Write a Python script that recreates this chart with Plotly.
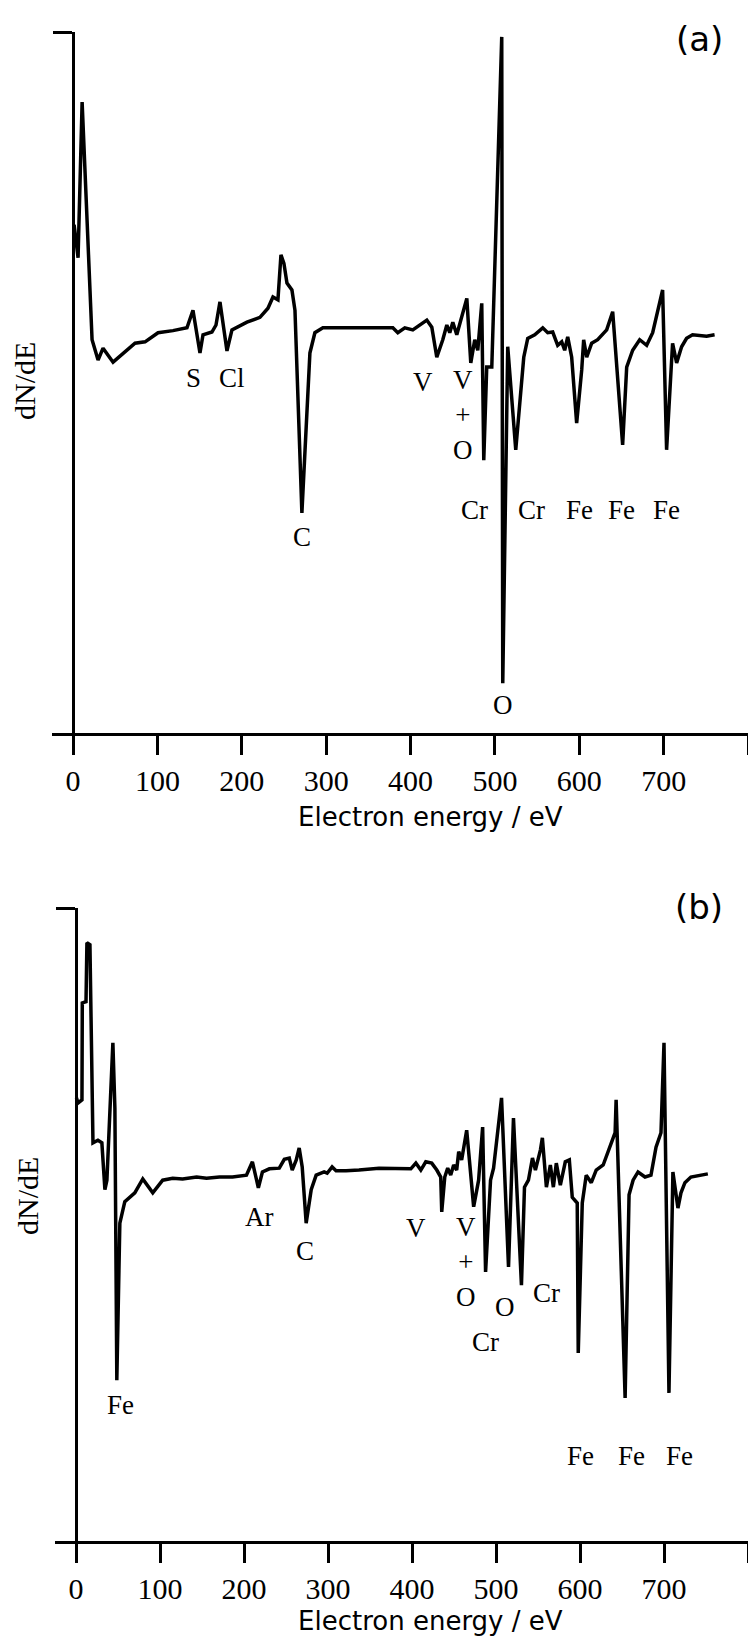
import plotly.graph_objects as go

# ---------------- data (electron energy in eV, dN/dE in arbitrary units) -------------
E_a = [1.2, 5.9, 10.7, 22.5, 29.6, 35.5, 47.4, 64.0, 73.4, 85.3, 100.7, 118.4, 135.0,
       142.1, 150.4, 154.0, 164.6, 169.4, 174.1, 182.4, 188.3, 206.1, 221.5, 231.0,
       236.9, 242.8, 246.4, 249.9, 253.5, 259.4, 263.0, 271.2, 280.7, 286.6, 296.1,
       308.0, 328.1, 348.2, 363.6, 379.0, 384.9, 393.2, 402.7, 411.0, 419.3, 425.2,
       431.1, 438.2, 443.0, 446.5, 450.1, 454.8, 460.7, 466.7, 471.4, 476.1, 479.7,
       484.4, 486.8, 490.3, 496.3, 508.1, 509.3, 515.2, 524.7, 534.2, 538.9, 547.2,
       556.7, 562.6, 568.5, 574.4, 579.2, 582.7, 586.3, 591.0, 596.9, 602.9, 605.2,
       608.8, 614.7, 621.8, 632.5, 639.6, 651.4, 656.2, 663.3, 671.6, 679.9, 687.0,
       698.8, 703.5, 710.6, 715.4, 721.3, 727.2, 734.3, 750.9, 760.4]
I_a = [72.5, 67.8, 90.0, 56.1, 53.2, 54.9, 52.9, 54.6, 55.6, 55.8, 57.1, 57.4, 57.8,
       60.3, 54.2, 56.8, 57.2, 58.2, 61.5, 54.5, 57.5, 58.6, 59.3, 60.6,
       62.2, 61.8, 68.2, 67.0, 64.2, 63.2, 60.3, 31.4, 54.2, 57.1, 57.8,
       57.8, 57.8, 57.9, 57.9, 57.8, 57.1, 57.8, 57.5, 58.2, 58.9, 57.9,
       53.6, 56.1, 58.2, 57.1, 58.6, 56.8, 59.6, 62.0, 52.8, 56.1, 54.6,
       61.3, 38.9, 52.2, 52.2, 99.3, 7.1, 55.1, 40.4, 53.6, 56.3, 56.8,
       57.8, 57.1, 57.2, 55.3, 55.8, 54.6, 56.5, 53.6, 44.2, 51.8, 56.1,
       53.6, 55.6, 56.1, 57.5, 60.1, 41.1, 52.2, 54.6, 56.1, 55.3, 57.1,
       63.2, 40.4, 55.6, 52.8, 55.1, 56.3, 56.8, 56.6, 56.8]

E_b = [0.5, 2.4, 7.1, 7.5, 11.9, 13.0, 16.6, 20.2, 26.1, 30.8, 34.4, 36.8, 43.9, 46.3,
       48.6, 52.2, 58.1, 64.1, 70.0, 79.5, 91.4, 103.2, 115.1, 126.9, 143.6, 155.4,
       170.8, 186.3, 202.9, 210.0, 217.1, 221.9, 230.2, 242.0, 248.0, 253.9, 257.4,
       262.2, 265.7, 269.3, 274.0, 280.0, 285.9, 295.4, 299.0, 304.9, 309.6, 321.5,
       336.9, 360.7, 398.6, 404.6, 410.5, 416.4, 423.5, 429.5, 434.2, 435.4, 439.0,
       442.5, 446.1, 449.6, 453.2, 455.6, 459.1, 465.1, 473.4, 479.3, 484.1, 487.6,
       493.5, 497.1, 506.6, 514.9, 520.8, 530.3, 533.9, 538.6, 543.4, 546.9, 552.9,
       555.2, 560.0, 564.7, 568.3, 571.8, 576.6, 582.5, 587.3, 590.8, 596.7, 597.9,
       602.7, 607.4, 613.4, 619.3, 627.6, 641.8, 643.0, 653.7, 658.4, 663.2, 669.1,
       677.4, 684.5, 690.5, 696.4, 700.0, 705.9, 710.6, 716.6, 720.2, 724.9, 732.0,
       742.7, 752.2]
I_b = [70.0, 69.2, 69.7, 85.0, 85.2, 94.5, 94.2, 62.9, 63.3, 62.9, 55.5, 57.0, 78.7, 68.4,
       25.4, 50.2, 53.6, 54.3, 55.0, 57.2, 55.0, 57.0, 57.3, 57.2, 57.5, 57.3,
       57.5, 57.5, 57.8, 59.9, 55.8, 58.3, 58.8, 58.9, 60.3, 60.5, 58.6,
       60.2, 62.1, 59.1, 50.2, 55.5, 57.8, 58.3, 58.1, 59.1, 58.5, 58.5,
       58.6, 58.9, 58.8, 59.7, 58.6, 59.9, 59.7, 58.6, 57.5, 52.0, 57.5,
       58.9, 57.8, 59.4, 58.6, 61.5, 60.2, 64.9, 52.8, 57.0, 65.4, 42.5,
       57.0, 58.9, 70.0, 43.3, 66.8, 40.4, 55.9, 57.0, 60.5, 58.6, 61.8,
       63.7, 55.9, 59.4, 55.9, 59.7, 56.2, 59.9, 60.2, 54.3, 53.4, 29.7,
       53.4, 57.8, 56.6, 58.6, 59.4, 64.5, 69.7, 22.6, 54.7, 57.0, 58.3,
       57.5, 57.8, 62.2, 64.5, 78.7, 23.4, 58.3, 52.6, 55.0, 56.6, 57.5,
       57.8, 58.0]

# peak labels: (text, energy, intensity)
labels_a = [("S", 143, 50.6), ("Cl", 188.6, 50.6), ("C", 271, 28.0), ("V", 414.5, 50.1),
            ("V<br>+<br>O", 462, 45.4), ("Cr", 476, 31.8), ("Cr", 543.6, 31.8),
            ("Fe", 600.5, 31.8), ("Fe", 650, 31.8), ("Fe", 703.5, 31.8), ("O", 509, 4.0)]
labels_b = [("Fe", 53.4, 21.5), ("Ar", 218, 51.2), ("C", 273, 45.8), ("V", 405, 49.4),
            ("V<br>+<br>O", 464, 44.1), ("O", 511, 37.0), ("Cr", 560, 39.2),
            ("Cr", 487.6, 31.4), ("Fe", 600, 13.4), ("Fe", 661, 13.4), ("Fe", 719, 13.4)]

x_range = [-25, 800]
y_range = [0, 100]
tick_vals = [0, 100, 200, 300, 400, 500, 600, 700, 800]
tick_text = ["0", "100", "200", "300", "400", "500", "600", "700", ""]
x_title = "Electron energy / eV"
y_title = "dN/dE"
panel_tags = ["(a)", "(b)"]

# ---------------- layout geometry ----------------
W, H = 748, 1638
xdom_a = [52 / W, 1.0]
xdom_b = [55 / W, 1.0]
ydom_a = [1 - 733 / H, 1 - 32 / H]
ydom_b = [1 - 1541 / H, 1 - 908 / H]


def zero_pos(dom):
    return dom[0] + (0 - x_range[0]) / (x_range[1] - x_range[0]) * (dom[1] - dom[0])


serif = "Liberation Serif, Times New Roman, serif"
sans = "DejaVu Sans, sans-serif"

fig = go.Figure()
fig.add_trace(go.Scatter(x=E_a, y=I_a, mode="lines", line=dict(color="black", width=3.5),
                         xaxis="x", yaxis="y", hoverinfo="skip"))
fig.add_trace(go.Scatter(x=E_b, y=I_b, mode="lines", line=dict(color="black", width=3.5),
                         xaxis="x2", yaxis="y2", hoverinfo="skip"))

xcommon = dict(range=x_range, showline=True, linecolor="black", linewidth=3,
               ticks="outside", ticklen=19, tickwidth=3, tickcolor="black",
               tickmode="array", tickvals=tick_vals, ticktext=tick_text,
               tickfont=dict(family=serif, size=30, color="black"),
               showgrid=False, zeroline=False)
ycommon = dict(range=y_range, anchor="free", showline=True, linecolor="black", linewidth=2.5,
               ticks="outside", ticklen=19, tickwidth=3, tickcolor="black",
               tickmode="array", tickvals=[y_range[1]], showticklabels=False,
               showgrid=False, zeroline=False)

fig.update_layout(
    width=W, height=H,
    margin=dict(l=0, r=0, t=0, b=0),
    paper_bgcolor="white", plot_bgcolor="white",
    showlegend=False,
    xaxis=dict(domain=xdom_a, anchor="y", **xcommon),
    yaxis=dict(domain=ydom_a, position=zero_pos(xdom_a), **ycommon),
    xaxis2=dict(domain=xdom_b, anchor="y2", **xcommon),
    yaxis2=dict(domain=ydom_b, position=zero_pos(xdom_b), **ycommon),
)

ann = []
for lbls, xr, yr in [(labels_a, "x", "y"), (labels_b, "x2", "y2")]:
    for t, e, v in lbls:
        ann.append(dict(text=t, x=e, y=v, xref=xr, yref=yr, showarrow=False,
                        xanchor="center", yanchor="middle",
                        font=dict(family=serif, size=27, color="black")))

for xt, yt in [(430, 817), (430, 1621)]:
    ann.append(dict(text=x_title, x=xt / W, y=1 - yt / H, xref="paper", yref="paper",
                    showarrow=False, xanchor="center", yanchor="middle",
                    font=dict(family=sans, size=26, color="black")))
for xt, yt in [(24, 381), (27, 1196)]:
    ann.append(dict(text=y_title, x=xt / W, y=1 - yt / H, xref="paper", yref="paper",
                    showarrow=False, xanchor="center", yanchor="middle", textangle=-90,
                    font=dict(family=serif, size=30, color="black")))
for tag, (xt, yt) in zip(panel_tags, [(699, 39), (699, 907)]):
    ann.append(dict(text=tag, x=xt / W, y=1 - yt / H, xref="paper", yref="paper",
                    showarrow=False, xanchor="center", yanchor="middle",
                    font=dict(family=sans, size=34, color="black")))

fig.update_layout(annotations=ann)
fig.write_html("out.html", config={"displayModeBar": False},
               post_script="document.body.style.margin='0px';document.body.style.overflow='hidden';")
